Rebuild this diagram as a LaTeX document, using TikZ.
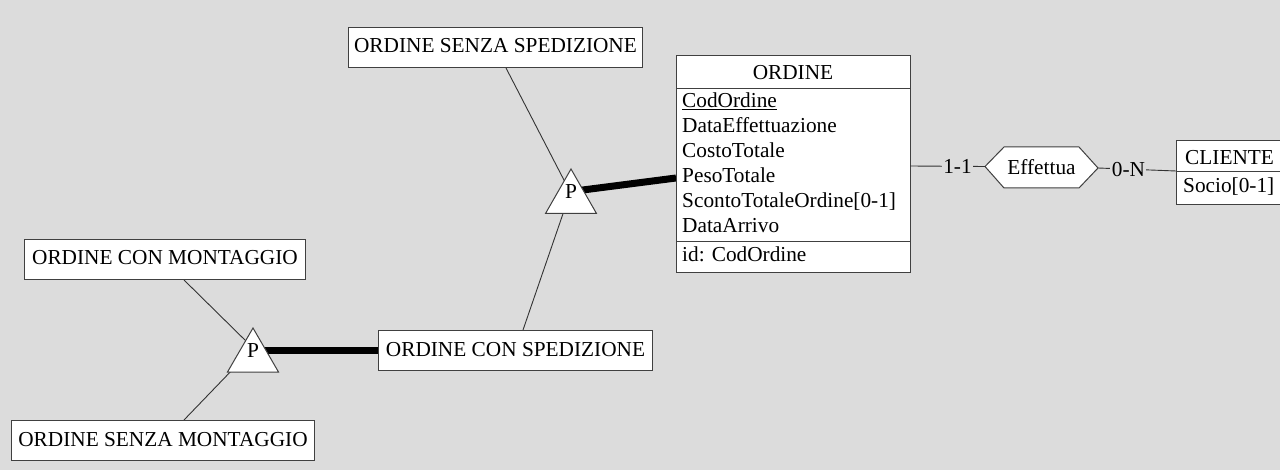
\documentclass[tikz,border=0pt]{standalone}
\usepackage{fontspec}
\setmainfont{Liberation Serif}
\definecolor{bg}{RGB}{220,220,220}
\tikzset{
  txt/.style={font=\fontsize{21.3}{25}\selectfont, text=black},
  ent/.style={txt, draw=black!75, line width=1pt, fill=white, inner sep=0pt,
    text height=25.5pt, text depth=14.5pt, anchor=north west},
  box/.style={draw=black!75, line width=1pt, fill=white, inner sep=0pt, anchor=north west},
  attr/.style={txt, inner sep=0pt, anchor=base west},
  thin/.style={draw=black!80, line width=0.9pt},
  thick/.style={draw=black, line width=7pt},
  tri/.style={draw=black!75, line width=1pt, fill=white},
  lbl/.style={txt, fill=bg, inner xsep=1.5pt, inner ysep=0pt}
}
\begin{document}
\begin{tikzpicture}[x=1pt,y=-1pt]
\useasboundingbox (0,0) rectangle (1280,470);
\fill[bg] (0,0) rectangle (1280,470);
\clip (0,0) rectangle (1280,470);

% connection points
\coordinate (ossB) at (506,68);
\coordinate (t1in) at (566,184);
\coordinate (ocsT) at (523,330);
\coordinate (t1inb) at (566,205);
\coordinate (t1r) at (575,191);
\coordinate (ordL) at (676,178);
\coordinate (ocmB) at (184,280);
\coordinate (t2in) at (250,345);
\coordinate (osmT) at (184,420);
\coordinate (t2inb) at (236,366);
\coordinate (t2r) at (255,351);
\coordinate (ocsL) at (378,351);

% connectors (under shapes)
\draw[thin] (ossB) -- (t1in);
\draw[thin] (ocsT) -- (t1inb);
\draw[thick] (t1r) -- (ordL);
\draw[thin] (ocmB) -- (t2in);
\draw[thin] (osmT) -- (t2inb);
\draw[thick] (t2r) -- (ocsL);

% triangles
\draw[tri] (571,169) -- (596.5,213.5) -- (545.5,213.5) -- cycle;
\node[txt, inner sep=0pt, anchor=base] (p1) at (571,198.5) {P};
\draw[tri] (253,328) -- (278.5,372) -- (227.5,372) -- cycle;
\node[txt, inner sep=0pt, anchor=base] (p2) at (253,358) {P};

% entity boxes
\node[ent, minimum width=294pt] (oss) at (348,27) {ORDINE SENZA SPEDIZIONE};
\node[ent, minimum width=274pt] (ocs) at (378,330) {ORDINE CON SPEDIZIONE};
\node[ent, minimum width=281pt] (ocm) at (24,239) {ORDINE CON MONTAGGIO};
\node[ent, minimum width=303pt] (osm) at (11,420) {ORDINE SENZA MONTAGGIO};

% ORDINE
\node[box, minimum width=234pt, minimum height=217pt] (ord) at (676,55) {};
\draw[draw=black!75, line width=1pt] (ord.west |- 0,89) -- (ord.east |- 0,89);
\draw[draw=black!75, line width=1pt] (ord.west |- 0,242) -- (ord.east |- 0,242);
\node[txt, inner sep=0pt, anchor=base] (ordT) at (793,80) {ORDINE};
\node[attr] (a1) at (682,108) {\underline{CodOrdine}};
\node[attr] (a2) at (682,132.9) {DataEffettuazione};
\node[attr] (a3) at (682,157.8) {CostoTotale};
\node[attr] (a4) at (682,182.7) {PesoTotale};
\node[attr] (a5) at (682,207.6) {ScontoTotaleOrdine[0-1]};
\node[attr] (a6) at (682,232.5) {DataArrivo};
\node[attr] (a7) at (682,261.5) {id: CodOrdine};

% CLIENTE
\node[box, minimum width=106pt, minimum height=64pt] (cli) at (1176,140) {};
\draw[draw=black!75, line width=1pt] (cli.west |- 0,172) -- (cli.east |- 0,172);
\node[attr] (cliT) at (1185,164.3) {CLIENTE};
\node[attr] (cliA) at (1183,192.7) {Socio[0-1]};

% Effettua relationship
\coordinate (effL) at (985,166.5);
\coordinate (effR) at (1098,168);
\draw[draw=black!75, line width=1pt, fill=white] (effL) -- (1004,147) -- (1079,147) -- (effR) -- (1079,188) -- (1004,188) -- cycle;
\node[txt, inner sep=0pt] (eff) at (1041.5,167.5) {Effettua};

\coordinate (ordR) at (910,166);
\coordinate (cliL) at (1176,171);
\draw[thin] (ordR) -- node[lbl, pos=0.633] (c1) {1-1} (effL);
\draw[thin] (effR) -- node[lbl, pos=0.39] (c2) {0-N} (cliL);
\end{tikzpicture}
\end{document}
